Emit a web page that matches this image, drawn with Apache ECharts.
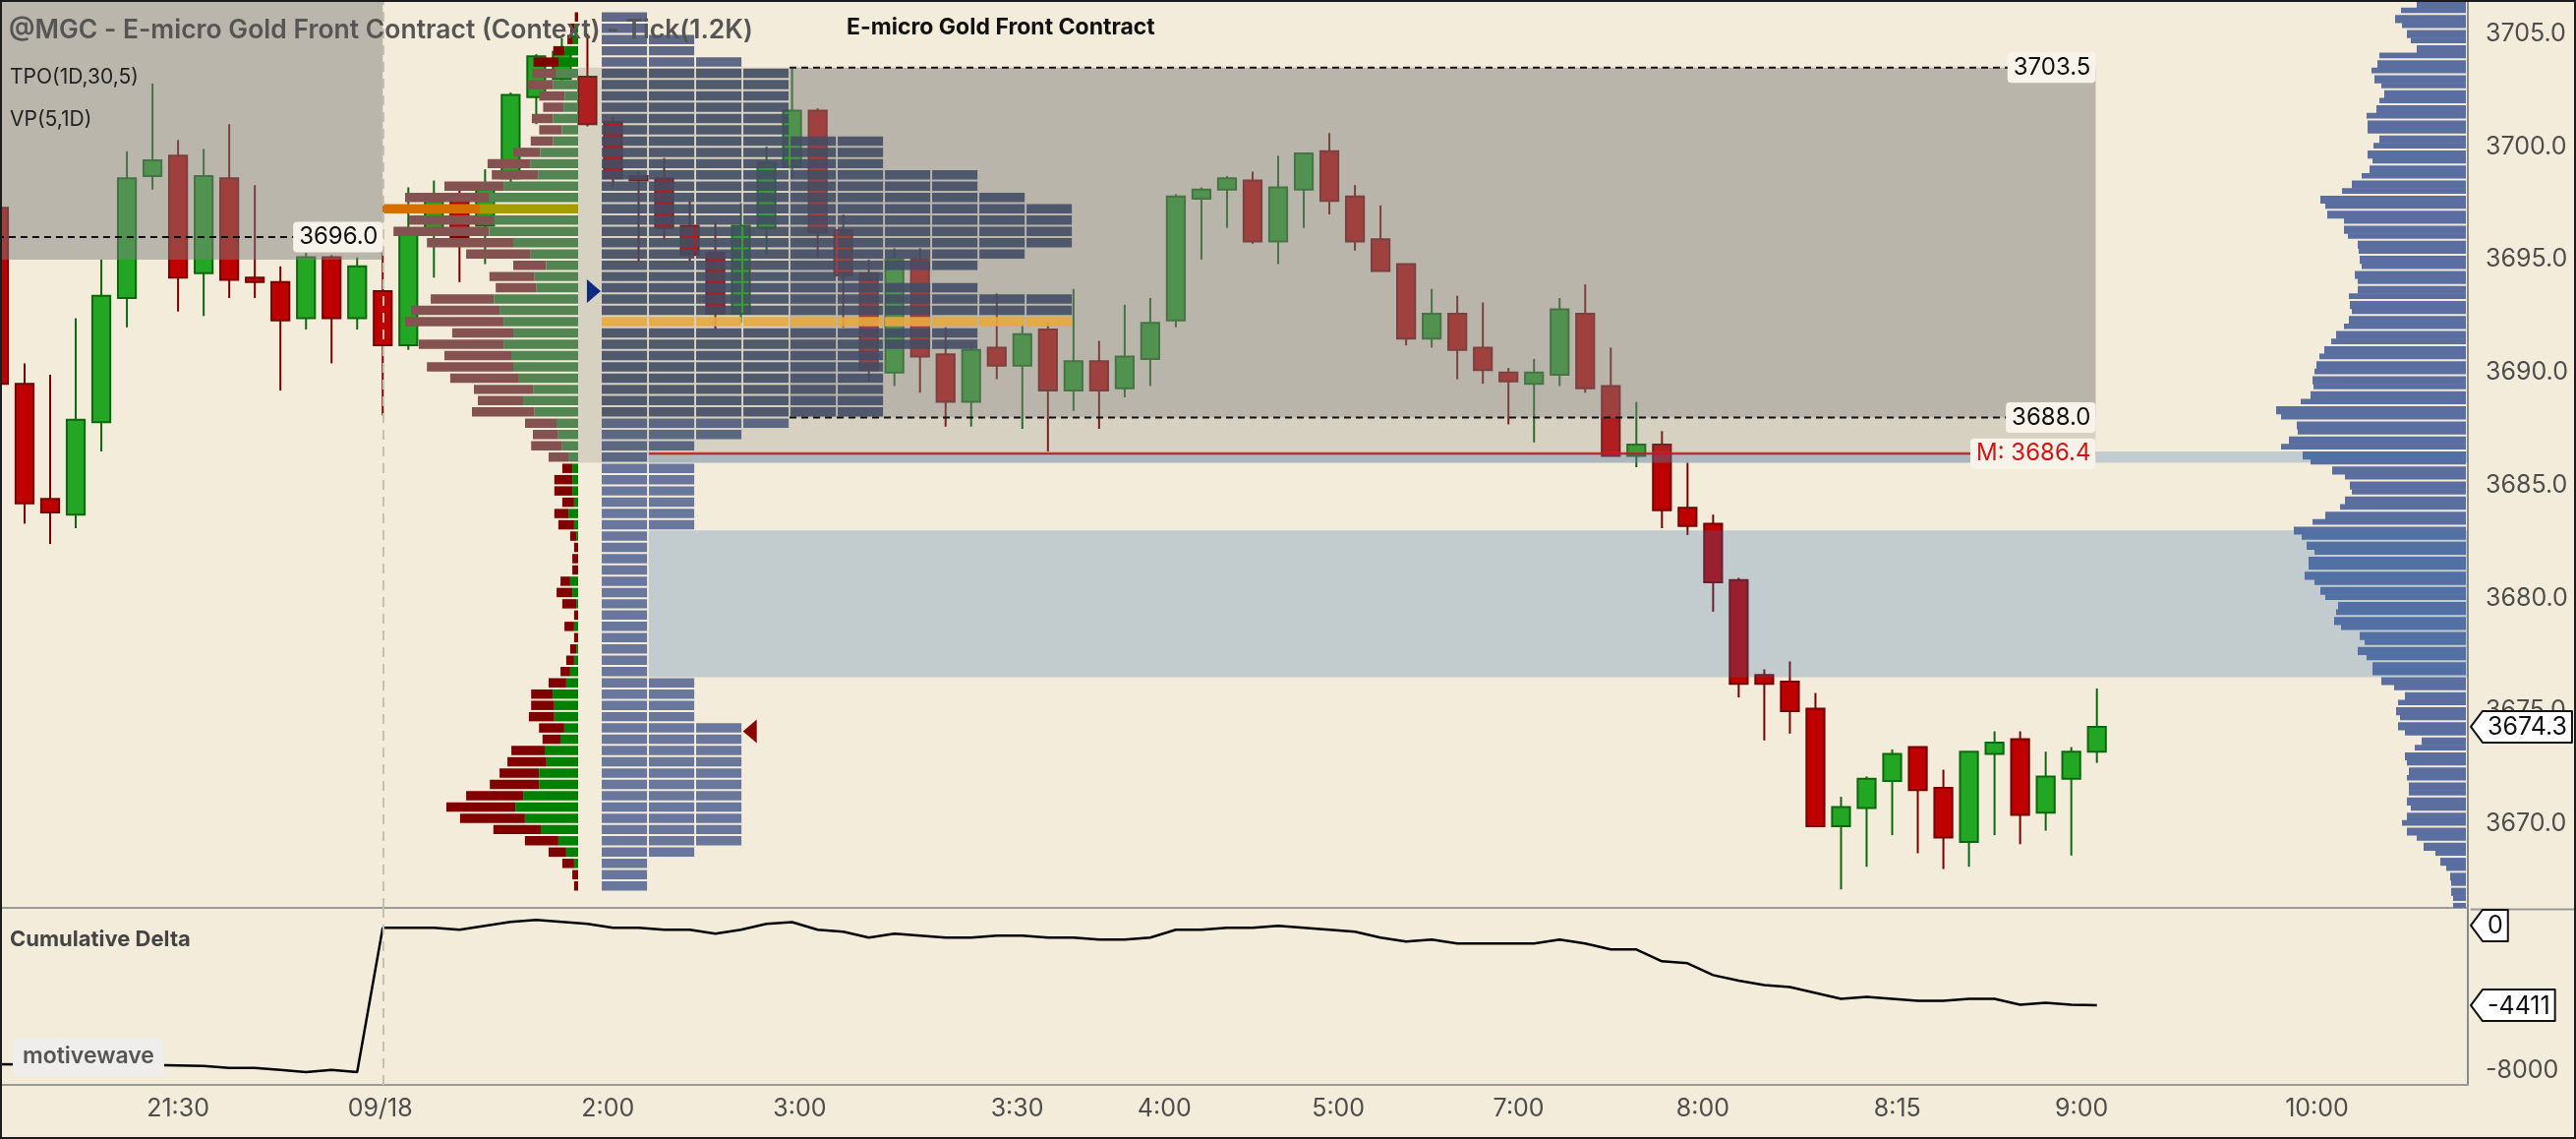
<!DOCTYPE html>
<html>
<head>
<meta charset="utf-8">
<script src="https://cdn.jsdelivr.net/npm/echarts@6/dist/echarts.min.js"></script>
<style>
  html, body { margin: 0; padding: 0; background: #F4ECDA; }
  #chart { width: 2620px; height: 1158px; }
  #frame { position: absolute; left: 0; top: 0; width: 2620px; height: 1158px;
           box-sizing: border-box; border: 2px solid #1c1c1c; pointer-events: none; }
</style>
</head>
<body>
<div id="chart"></div>
<div id="frame"></div>
<script>
// bars are placed by slot index k (tick chart, 1.2K ticks per bar)
// [open, high, low, close]
var ohlc = [
  [3697.3, 3697.6, 3689.0, 3689.5], [3689.5, 3690.4, 3683.3, 3684.2], [3684.4, 3689.9, 3682.4, 3683.8],
  [3683.7, 3692.4, 3683.1, 3687.9], [3687.8, 3695.0, 3686.5, 3693.4], [3693.3, 3699.8, 3692.0, 3698.6],
  [3698.7, 3702.8, 3698.1, 3699.4], [3699.6, 3700.3, 3692.7, 3694.2], [3694.4, 3699.9, 3692.5, 3698.7],
  [3698.6, 3701.0, 3693.3, 3694.1], [3694.2, 3698.3, 3693.3, 3694.0], [3694.0, 3694.7, 3689.2, 3692.3],
  [3692.4, 3695.3, 3691.9, 3695.1], [3695.1, 3695.2, 3690.4, 3692.4], [3692.4, 3695.1, 3691.9, 3694.7],
  [3693.6, 3695.3, 3688.1, 3691.2], [3691.2, 3698.2, 3691.0, 3696.3], [3696.3, 3698.5, 3694.2, 3697.6],
  [3697.6, 3698.4, 3694.0, 3696.0], [3696.5, 3699.0, 3694.8, 3698.15], [3698.6, 3702.4, 3698.15, 3702.3],
  [3702.2, 3704.1, 3701.0, 3704.0], [3703.0, 3704.8, 3702.6, 3704.2], [3703.1, 3705.0, 3700.9, 3701.0],
  [3701.1, 3701.3, 3698.2, 3698.6], [3698.7, 3698.9, 3694.9, 3698.5], [3698.6, 3699.5, 3695.9, 3696.4],
  [3696.5, 3697.6, 3694.9, 3695.2], [3695.3, 3696.6, 3691.9, 3692.6], [3692.6, 3697.5, 3692.2, 3696.5],
  [3696.4, 3700.0, 3695.25, 3699.3], [3699.1, 3703.45, 3698.6, 3701.6], [3701.6, 3701.7, 3695.1, 3696.2],
  [3696.3, 3697.0, 3692.0, 3694.3], [3694.4, 3695.0, 3689.6, 3690.1], [3690.0, 3695.5, 3689.4, 3695.0],
  [3695.0, 3695.5, 3689.1, 3690.7], [3690.8, 3692.0, 3687.6, 3688.7], [3688.7, 3691.2, 3687.6, 3691.0],
  [3691.1, 3693.5, 3689.7, 3690.3], [3690.3, 3692.1, 3687.5, 3691.7], [3691.9, 3692.2, 3686.5, 3689.2],
  [3689.2, 3693.7, 3688.3, 3690.5], [3690.5, 3691.4, 3687.5, 3689.2], [3689.3, 3693.0, 3688.9, 3690.7],
  [3690.6, 3693.3, 3689.4, 3692.2], [3692.3, 3697.9, 3692.0, 3697.8], [3697.7, 3698.2, 3695.0, 3698.1],
  [3698.1, 3698.7, 3696.4, 3698.6], [3698.5, 3698.9, 3695.7, 3695.8], [3695.8, 3699.6, 3694.8, 3698.2],
  [3698.1, 3699.7, 3696.4, 3699.7], [3699.8, 3700.6, 3697.0, 3697.6], [3697.8, 3698.3, 3695.4, 3695.8],
  [3695.9, 3697.4, 3694.5, 3694.5], [3694.8, 3694.8, 3691.2, 3691.5], [3691.5, 3693.7, 3691.1, 3692.6],
  [3692.6, 3693.4, 3689.7, 3691.0], [3691.1, 3693.1, 3689.5, 3690.1], [3690.0, 3690.2, 3687.7, 3689.6],
  [3689.5, 3690.6, 3686.9, 3690.0], [3689.9, 3693.3, 3689.4, 3692.8], [3692.6, 3693.9, 3689.1, 3689.3],
  [3689.4, 3691.1, 3686.3, 3686.3], [3686.3, 3688.7, 3685.8, 3686.8], [3686.8, 3687.4, 3683.1, 3683.9],
  [3684.0, 3686.0, 3682.8, 3683.2], [3683.3, 3683.7, 3679.4, 3680.7], [3680.8, 3680.9, 3675.6, 3676.2],
  [3676.6, 3676.85, 3673.7, 3676.2], [3676.3, 3677.2, 3674.0, 3675.0], [3675.1, 3675.8, 3669.9, 3669.9],
  [3669.9, 3671.2, 3667.1, 3670.75], [3670.7, 3672.1, 3668.1, 3672.0], [3671.9, 3673.3, 3669.5, 3673.1],
  [3673.4, 3673.4, 3668.7, 3671.5], [3671.6, 3672.4, 3668.0, 3669.4], [3669.2, 3673.2, 3668.1, 3673.2],
  [3673.1, 3674.1, 3669.5, 3673.6], [3673.75, 3674.1, 3669.1, 3670.4], [3670.5, 3673.2, 3669.7, 3672.1],
  [3672.0, 3673.4, 3668.6, 3673.2], [3673.2, 3676.0, 3672.7, 3674.3]
];

var cumDelta = [
  -7660, -7680, -7700, -7690, -7700, -7720, -7710, -7734, -7755, -7864, -7864, -7973, -8099, -7973, -8099,
  -125, -125, -125, -234, -16, 202, 311, 202, 93, -125, -125, -234, -234, -452, -234, 93, 185, -234, -343,
  -670, -452, -561, -670, -670, -561, -561, -670, -670, -779, -779, -670, -234, -234, -125, -125, -16, -125,
  -234, -343, -670, -888, -779, -997, -997, -997, -997, -779, -997, -1324, -1324, -1978, -2087, -2741, -3047,
  -3286, -3395, -3722, -4049, -3940, -4049, -4158, -4158, -4049, -4049, -4376, -4267, -4376, -4411
];

var timeTickPos = [7.0, 14.9, 23.8, 31.3, 39.8, 45.55, 52.35, 59.4, 66.6, 74.2, 81.4, 90.6];
var timeTickText = ['21:30', '09/18', '2:00', '3:00', '3:30', '4:00', '5:00', '7:00', '8:00', '8:15', '9:00', '10:00'];
var priceTicks = [3670, 3675, 3680, 3685, 3690, 3695, 3700, 3705];
var deltaTicks = [-8000];

// profile rows, 0.5 each, starting at 3667.0
var rowBase = 3667.0, rowStep = 0.5;
var leftTotal = [
  4.1, 5.9, 16.1, 30, 54.1, 86.2, 120.1, 134, 113.9, 89.8,
  79.9, 71.9, 67.9, 36.2, 39.8, 50.1, 47.8, 47.8, 30, 17.9,
  12.1, 8.1, 4.1, 13.9, 4.1, 16.1, 21.9, 17.9, 5.9, 5.9,
  4.1, 8.1, 20.1, 24.2, 16.1, 24.2, 24.2, 16.1, 30, 47.8,
  46, 54, 108, 102, 106, 130.1, 153.8, 136, 162.1, 128.1,
  176, 170, 149.9, 83.8, 90.2, 66, 113.9, 153.8, 187.8, 172,
  199, 176, 136, 87.8, 92.1, 66, 48.2, 39.6, 47.1, 35.6,
  39.6, 51.1, 46.5, 45.4, 25.3, 10.9, 8, 3.4
];
var leftBuy = [
  0, 0, 4.1, 12.1, 20.1, 38, 54.1, 63.9, 55.9, 39.8,
  39.8, 32.2, 34, 18, 14.1, 24.2, 24.2, 25.9, 12.1, 8.1,
  4.1, 1.9, 0, 4.1, 0, 1.9, 5.9, 8.1, 0, 0,
  0, 1.9, 4.1, 9.9, 4.1, 5.9, 5.9, 5.9, 10, 16.2,
  20.2, 22, 44.3, 56, 45.9, 60.1, 66, 68, 75.9, 66,
  75.9, 79.9, 85.8, 42.3, 44.3, 32.4, 48.2, 66, 90.5, 85.8,
  100, 90.5, 75.9, 40.3, 48.2, 38.4, 25.3, 16.6, 25.3, 14.9,
  13.8, 25.3, 22.4, 19.5, 13.8, 5.2, 3.4, 0
];
var tpoCount = [
  1, 1, 1, 2, 3, 3, 3, 3, 3, 3,
  3, 3, 3, 3, 3, 2, 2, 2, 2, 1,
  1, 1, 1, 1, 1, 1, 1, 1, 1, 1,
  1, 1, 2, 2, 2, 2, 2, 2, 1, 2,
  3, 4, 6, 6, 6, 6, 6, 6, 8, 8,
  10, 10, 10, 8, 6, 8, 9, 10, 10, 10,
  10, 9, 8, 8, 6, 6, 6, 4, 4, 4,
  4, 4, 4, 3, 2, 2, 1, 1
];

// right-hand volume profile, rows of 1/3 point from the top of the pane down
var rightTop = 3706.5, rightStep = 1 / 3;
var rightVol = [
  52, 68, 74, 67, 62, 58, 52, 90, 92, 98, 95, 88, 85, 90, 93, 103, 102, 102, 90, 96,
  102, 97, 100, 108, 118, 128, 150, 145, 143, 126, 126, 122, 112, 111, 110, 108, 115, 112, 112, 121,
  120, 118, 121, 126, 134, 139, 146, 151, 154, 156, 158, 157, 160, 170, 195, 190, 174, 173, 182, 190,
  168, 160, 138, 125, 120, 118, 125, 130, 145, 158, 177, 169, 164, 156, 162, 162, 166, 156, 150, 145,
  132, 134, 136, 129, 110, 105, 112, 103, 97, 97, 88, 75, 64, 71, 73, 69, 71, 64, 47, 54,
  64, 62, 60, 62, 60, 60, 62, 58, 62, 67, 62, 52, 45, 33, 28, 22, 18, 17, 17, 15, 15
];

// key levels
var prevLevel = 3696.0, prevValueLow = 3695.0;
var vaHigh = 3703.5, vaLow = 3688.0, vaOuterLow = 3686.0, midLevel = 3686.4;
var singlePrints = [[3676.5, 3683.0], [3686.0, 3686.5]];
var markerPts = [[23.25, 3693.6, 1], [29.35, 3674.1, -1]];
var lastPrice = 3674.3, deltaTags = [0, -4411];

// ---------------------------------------------------------------
var FONT = 'Inter, "Noto Sans", sans-serif';
var xMin = 0.04, xMax = 96.5, sessionK = 15;
var priceMin = 3666.28, priceMax = 3706.5;
var tpoStartK = 23.56, tpoPitchK = 1.845, tpoBlockK = 1.77;

var measureCtx = document.createElement('canvas').getContext('2d');
function textWidth(t, font) { measureCtx.font = font; return measureCtx.measureText(t).width; }

var leftPoc = leftTotal.indexOf(Math.max.apply(null, leftTotal));
var tpoPoc = tpoCount.indexOf(Math.max.apply(null, tpoCount));

function renderCandle(params, api) {
  var k = api.value(0), o = api.value(1), h = api.value(2), l = api.value(3), c = api.value(4);
  var pO = api.coord([k, o]), pC = api.coord([k, c]), pH = api.coord([k, h]), pL = api.coord([k, l]);
  var w = api.size([1, 0])[0] * 0.7;
  var up = c >= o;
  var fill = up ? '#22A623' : '#BE0000', edge = up ? '#0D680D' : '#760000';
  var top = Math.min(pO[1], pC[1]);
  var bh = Math.max(Math.abs(pO[1] - pC[1]), 3);
  return { type: 'group', children: [
    { type: 'line', shape: { x1: pH[0], y1: pH[1], x2: pL[0], y2: pL[1] }, style: { stroke: edge, lineWidth: 2 } },
    { type: 'rect', shape: { x: pO[0] - w / 2, y: top, width: w, height: bh }, style: { fill: fill, stroke: edge, lineWidth: 2 } }
  ] };
}

function renderLeftProfile(params, api) {
  var tot = api.value(0), buy = api.value(1), low = api.value(2);
  var pTop = api.coord([0, low + rowStep]), pBot = api.coord([0, low]);
  var xR = pTop[0], xG = api.coord([buy, low])[0], xL = api.coord([tot, low])[0];
  var y = pTop[1] + 1, h = pBot[1] - pTop[1] - 2;
  var muted = low >= vaOuterLow && low < vaHigh;
  var isPoc = params.dataIndex === leftPoc;
  var sell = isPoc ? '#D57000' : (muted ? '#845250' : '#800000');
  var bought = isPoc ? '#A49C00' : (muted ? '#538553' : '#008000');
  return { type: 'group', children: [
    { type: 'rect', shape: { x: xL, y: y, width: xG - xL, height: h }, style: { fill: sell } },
    { type: 'rect', shape: { x: xG, y: y, width: xR - xG, height: h }, style: { fill: bought } }
  ] };
}

function renderRightProfile(params, api) {
  var w = api.value(0), high = api.value(1);
  var a = api.coord([0, high]), b = api.coord([w, high - rightStep]);
  var gap = params.dataIndex % 2 === 1 ? 2 : -0.5;
  return { type: 'rect', shape: { x: b[0], y: a[1], width: a[0] - b[0] - 2, height: b[1] - a[1] - gap },
           style: { fill: '#5B6EA0' } };
}

function renderShade(params, api) {
  var a = api.coord([api.value(0), api.value(3)]), b = api.coord([api.value(1), api.value(2)]);
  var kind = api.value(4);
  var fill = kind === 0 ? 'rgba(128,128,125,0.5)' : kind === 1 ? 'rgba(128,128,125,0.25)'
           : kind === 2 ? 'rgba(128,128,125,0.34)' : 'rgba(60,117,174,0.27)';
  return { type: 'rect', shape: { x: a[0], y: a[1], width: b[0] - a[0], height: b[1] - a[1] }, style: { fill: fill } };
}

function renderTpo(params, api) {
  var low = api.value(0), n = api.value(1);
  var pTop = api.coord([tpoStartK, low + rowStep]), pBot = api.coord([tpoStartK, low]);
  var unit = api.size([1, 0])[0];
  var inVa = low >= vaLow && low < vaHigh;
  var nearVa = low >= vaOuterLow && low < vaLow || low >= vaHigh;
  var color = params.dataIndex === tpoPoc ? '#E8AA3C' : inVa ? '#434C64' : nearVa ? '#4F5B7D' : '#5B6A96';
  var kids = [];
  for (var j = 0; j < n; j++) {
    kids.push({ type: 'rect', shape: { x: pTop[0] + j * tpoPitchK * unit, y: pTop[1] + 1,
      width: tpoBlockK * unit, height: pBot[1] - pTop[1] - 2 }, style: { fill: color, opacity: 0.9 } });
  }
  return { type: 'group', children: kids };
}

var levelDefs = [
  { price: prevLevel, from: -1, to: sessionK, color: '#111111', dash: true },
  { price: vaHigh, from: 30.9, to: 81.95, color: '#111111', dash: true },
  { price: vaLow, from: 30.9, to: 81.95, color: '#111111', dash: true },
  { price: midLevel, from: 25.4, to: 81.95, color: '#D01515', dash: false, prefix: 'M: ' }
];
function renderLevel(params, api) {
  var L = levelDefs[params.dataIndex];
  var a = api.coord([L.from, L.price]), b = api.coord([L.to, L.price]);
  return { type: 'group', children: [
    { type: 'line', shape: { x1: a[0], y1: a[1], x2: b[0], y2: b[1] },
      style: { stroke: L.color, lineWidth: 2, lineDash: L.dash ? [7, 5] : null } },
    { type: 'text', x: b[0], y: b[1], style: { text: (L.prefix || '') + L.price.toFixed(1), align: 'right',
      verticalAlign: 'middle', fill: L.color, font: '24px ' + FONT, backgroundColor: '#F7F3EA',
      padding: [4, 5, 3, 6], borderRadius: 4 } }
  ] };
}

function renderMarker(params, api) {
  var p = api.coord([api.value(0), api.value(1)]), d = api.value(2);
  return { type: 'polygon', shape: { points: [[p[0] - 7 * d, p[1] - 12], [p[0] + 7 * d, p[1]], [p[0] - 7 * d, p[1] + 12]] },
           style: { fill: d > 0 ? '#0B2A80' : '#8A0000' } };
}

function tagShape(p, txt) {
  var font = '25px ' + FONT;
  var w = textWidth(txt, font) + 10;
  var x0 = p[0] + 3, y = p[1];
  return { type: 'group', children: [
    { type: 'polygon', shape: { points: [[x0, y], [x0 + 12, y - 16], [x0 + 12 + w, y - 16], [x0 + 12 + w, y + 16], [x0 + 12, y + 16]] },
      style: { fill: '#FFFFFF', stroke: '#111111', lineWidth: 2, lineJoin: 'round' } },
    { type: 'text', x: x0 + 12 + w / 2, y: y + 1, style: { text: txt, align: 'center', verticalAlign: 'middle', fill: '#111', font: font } }
  ] };
}

var option = {
  animation: false,
  backgroundColor: '#F4ECDA',
  textStyle: { fontFamily: FONT },
  title: [
    { text: '@MGC - E-micro Gold Front Contract (Context) - Tick(1.2K)', left: 9, top: 18, padding: 0, z: 20,
      textStyle: { fontFamily: FONT, fontSize: 26.5, fontWeight: 600, color: '#555555' } },
    { text: 'TPO(1D,30,5)', left: 10, top: 68, padding: 0, z: 20, textStyle: { fontFamily: FONT, fontSize: 21, fontWeight: 400, color: '#222' } },
    { text: 'VP(5,1D)', left: 10, top: 111, padding: 0, z: 20, textStyle: { fontFamily: FONT, fontSize: 21, fontWeight: 400, color: '#222' } },
    { text: 'E-micro Gold Front Contract', left: 861, top: 17, padding: 0, z: 20, textStyle: { fontFamily: FONT, fontSize: 23, fontWeight: 700, color: '#111' } },
    { text: 'Cumulative Delta', left: 10, top: 944, padding: 0, z: 20, textStyle: { fontFamily: FONT, fontSize: 22, fontWeight: 700, color: '#444' } },
    { text: 'motivewave', left: 13, top: 1055, padding: [8, 10, 8, 10], backgroundColor: '#EFEEEC', borderRadius: 4, z: 20,
      textStyle: { fontFamily: FONT, fontSize: 23, fontWeight: 600, color: '#555' } }
  ],
  // pane divider carried on under the price scale
  graphic: [
    { type: 'line', left: 2510, top: 922, shape: { x1: 0, y1: 0, x2: 110, y2: 0 }, style: { stroke: '#9A9A9A', lineWidth: 2 } }
  ],
  grid: [
    { left: 0, top: 0, width: 2510, height: 923 },
    { left: 0, top: 923, width: 2510, height: 180 }
  ],
  xAxis: [
    { type: 'value', gridIndex: 0, min: xMin, max: xMax,
      axisLine: { show: true, onZero: false, lineStyle: { color: '#9A9A9A', width: 2 } },
      axisTick: { show: false }, axisLabel: { show: false }, splitLine: { show: false } },
    { type: 'value', gridIndex: 0, min: -1922, max: 588, inverse: true, show: false, splitLine: { show: false } },
    { type: 'value', gridIndex: 0, min: 0, max: 2510, inverse: true, show: false, splitLine: { show: false } },
    { type: 'value', gridIndex: 1, min: xMin, max: xMax,
      axisLine: { show: true, onZero: false, lineStyle: { color: '#9A9A9A', width: 2 } },
      axisTick: { show: false }, splitLine: { show: false },
      axisLabel: { customValues: timeTickPos, color: '#4D4D4D', fontSize: 25, margin: 12, fontFamily: FONT,
        formatter: function (v) {
          for (var i = 0; i < timeTickPos.length; i++) if (Math.abs(timeTickPos[i] - v) < 1e-6) return timeTickText[i];
          return '';
        } } }
  ],
  yAxis: [
    { type: 'value', gridIndex: 0, position: 'right', min: priceMin, max: priceMax,
      axisLine: { show: true, onZero: false, lineStyle: { color: '#8A8A8A', width: 2 } },
      axisTick: { show: false }, splitLine: { show: false },
      axisLabel: { customValues: priceTicks, formatter: function (v) { return v.toFixed(1); },
        color: '#4D4D4D', fontSize: 25, margin: 18, fontFamily: FONT } },
    { type: 'value', gridIndex: 1, position: 'right', min: -8806, max: 975,
      axisLine: { show: true, onZero: false, lineStyle: { color: '#8A8A8A', width: 2 } },
      axisTick: { show: false }, splitLine: { show: false },
      axisLabel: { customValues: deltaTicks, formatter: function (v) { return String(v); },
        color: '#4D4D4D', fontSize: 25, margin: 18, fontFamily: FONT } }
  ],
  series: [
    { type: 'custom', name: 'bars', xAxisIndex: 0, yAxisIndex: 0, z: 2, clip: true,
      renderItem: renderCandle,
      data: ohlc.map(function (d, i) { return [i, d[0], d[1], d[2], d[3]]; }),
      markLine: { silent: true, symbol: 'none', label: { show: false },
        lineStyle: { type: [10, 7], color: '#C6BFB3', width: 2 }, data: [{ xAxis: sessionK }] } },
    { type: 'custom', name: 'prevProfile', xAxisIndex: 1, yAxisIndex: 0, z: 3, clip: true,
      renderItem: renderLeftProfile,
      data: leftTotal.map(function (t, i) { return [t, leftBuy[i], rowBase + i * rowStep]; }) },
    { type: 'custom', name: 'volumeProfile', xAxisIndex: 2, yAxisIndex: 0, z: 3, clip: true,
      renderItem: renderRightProfile,
      data: rightVol.map(function (w, i) { return [w, rightTop - i * rightStep]; }) },
    { type: 'custom', name: 'shades', xAxisIndex: 0, yAxisIndex: 0, z: 4, clip: true,
      renderItem: renderShade,
      data: [
        [-1, sessionK, prevValueLow, priceMax + 2, 0],
        [22.64, 81.95, vaOuterLow, vaHigh, 1],
        [30.9, 81.95, vaLow, vaHigh, 2],
        [25.4, xMax, singlePrints[0][0], singlePrints[0][1], 3],
        [25.4, xMax, singlePrints[1][0], singlePrints[1][1], 3]
      ] },
    { type: 'custom', name: 'tpo', xAxisIndex: 0, yAxisIndex: 0, z: 5, clip: true,
      renderItem: renderTpo,
      data: tpoCount.map(function (n, i) { return [rowBase + i * rowStep, n]; }) },
    { type: 'custom', name: 'levels', xAxisIndex: 0, yAxisIndex: 0, z: 6, clip: true,
      renderItem: renderLevel, data: levelDefs.map(function (L) { return [L.to, L.price]; }) },
    { type: 'custom', name: 'markers', xAxisIndex: 0, yAxisIndex: 0, z: 7, clip: true,
      renderItem: renderMarker, data: markerPts },
    { type: 'custom', name: 'priceTag', xAxisIndex: 0, yAxisIndex: 0, z: 8, clip: false,
      renderItem: function (params, api) { var p = api.coord([xMax, api.value(1)]); return tagShape(p, api.value(1).toFixed(1)); },
      data: [[xMax, lastPrice]] },
    { type: 'line', name: 'Cumulative Delta', xAxisIndex: 3, yAxisIndex: 1, z: 3, symbol: 'none',
      lineStyle: { color: '#000000', width: 2.5 },
      data: cumDelta.map(function (v, i) { return [i, v]; }),
      markLine: { silent: true, symbol: 'none', label: { show: false },
        lineStyle: { type: [10, 7], color: '#C6BFB3', width: 2 }, data: [{ xAxis: sessionK }] } },
    { type: 'custom', name: 'deltaTags', xAxisIndex: 3, yAxisIndex: 1, z: 8, clip: false,
      renderItem: function (params, api) { var p = api.coord([xMax, api.value(1)]); return tagShape(p, String(api.value(1))); },
      data: deltaTags.map(function (v) { return [xMax, v]; }) }
  ]
};

var chart = echarts.init(document.getElementById('chart'));
chart.setOption(option);
</script>
</body>
</html>
